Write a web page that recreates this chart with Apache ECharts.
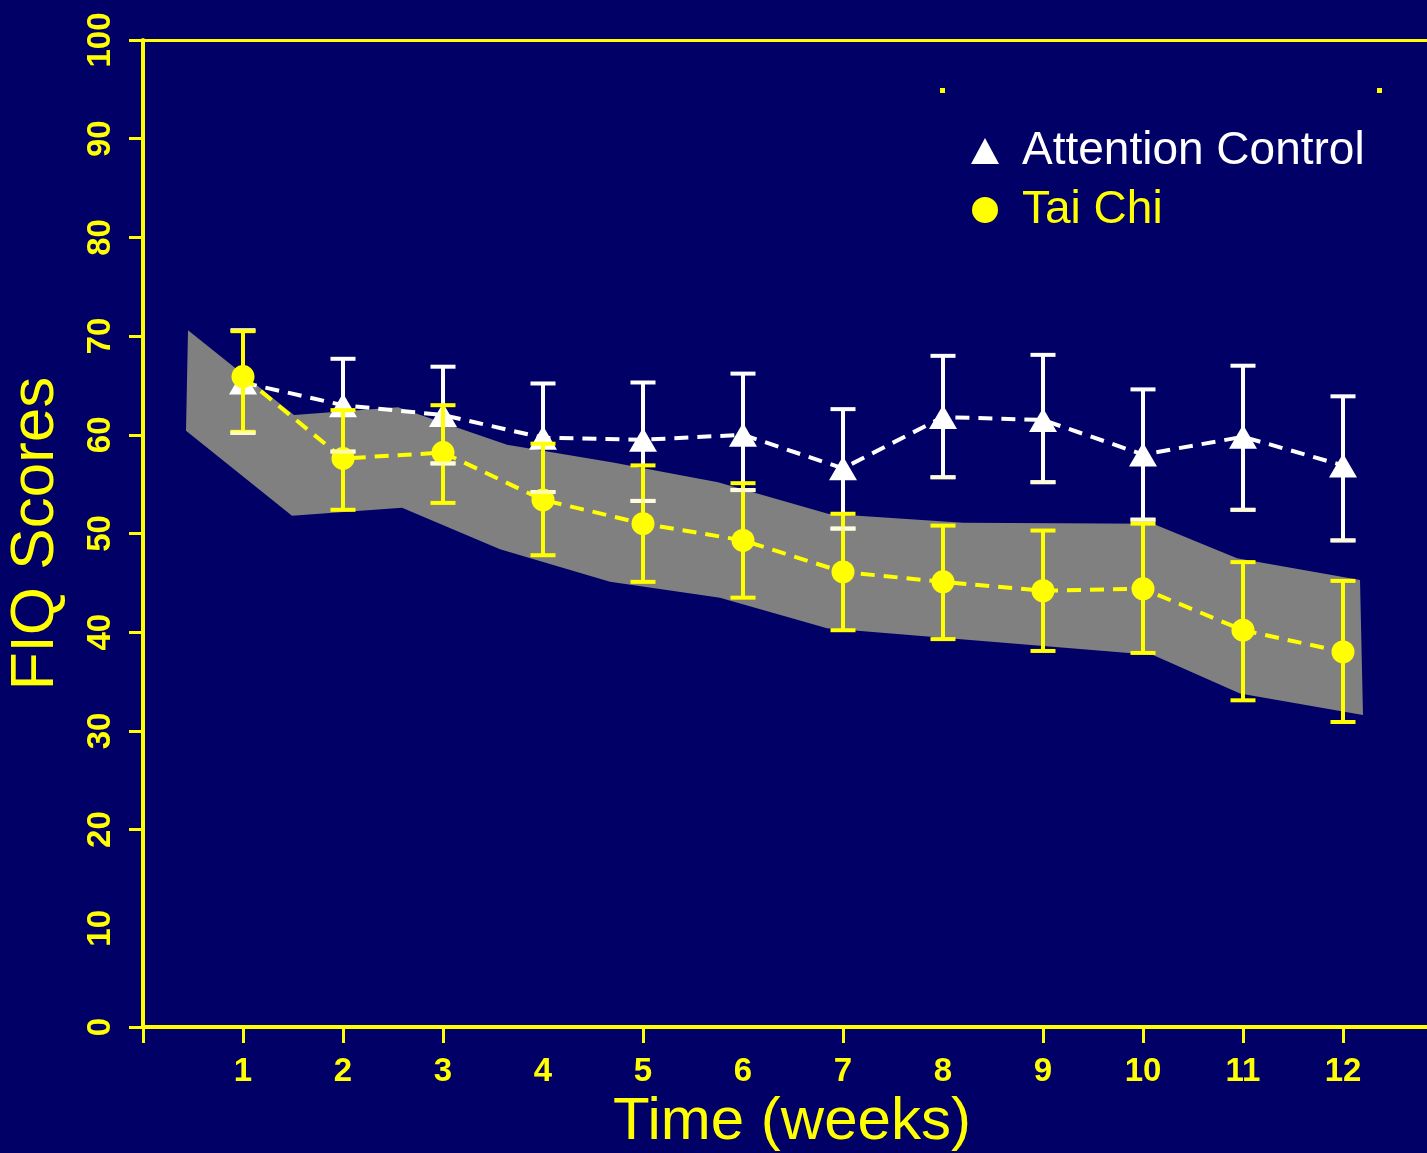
<!DOCTYPE html>
<html>
<head>
<meta charset="utf-8">
<script src="https://cdn.jsdelivr.net/npm/echarts@6/dist/echarts.min.js"></script>
<style>
html,body{margin:0;padding:0;background:#000066;}
#chart{width:1427px;height:1153px;}
</style>
</head>
<body>
<div id="chart"></div>
<script>
// ---- data ----
const weeks = [1, 2, 3, 4, 5, 6, 7, 8, 9, 10, 11, 12];
const acMean  = [65.3, 63.0, 62.0, 59.7, 59.5, 60.0, 56.6, 61.8, 61.5, 58.0, 59.8, 56.9];
const acUpper = [70.6, 67.7, 66.9, 65.2, 65.3, 66.2, 62.6, 68.0, 68.1, 64.6, 67.0, 63.9];
const acLower = [60.2, 58.3, 57.1, 54.2, 53.3, 54.4, 50.5, 55.7, 55.2, 51.4, 52.4, 49.3];
const tcMean  = [65.9, 57.6, 58.2, 53.4, 51.0, 49.3, 46.1, 45.1, 44.2, 44.4, 40.2, 38.0];
const tcUpper = [70.5, 62.5, 63.0, 59.1, 56.9, 55.1, 52.0, 50.8, 50.3, 51.0, 47.1, 45.2];
const tcLower = [60.3, 52.4, 53.1, 47.8, 45.1, 43.5, 40.2, 39.3, 38.1, 37.9, 33.1, 30.9];
const bandUpperX = [0.45, 1.51, 2.55, 3.64, 4.7, 5.75, 6.85, 8.2, 10.1, 10.94, 12.17];
const bandUpperY = [70.6, 62.0, 62.8, 59.0, 57.2, 55.2, 52.0, 51.1, 51.0, 47.5, 45.3];
const bandLowerX = [0.43, 1.49, 2.59, 3.57, 4.67, 5.77, 6.84, 10.1, 10.97, 12.2];
const bandLowerY = [60.4, 51.8, 52.6, 48.4, 45.1, 43.5, 40.4, 37.7, 33.8, 31.6];
const xTickValues = [0, 1, 2, 3, 5, 7, 9, 10, 11, 12];
const xLabelValues = [1, 2, 3, 4, 5, 6, 7, 8, 9, 10, 11, 12];
const yTickValues = [0, 20, 30, 40, 50, 60, 70, 80, 90, 100];
const yLabelValues = [0, 10, 20, 30, 40, 50, 60, 70, 80, 90, 100];
const seriesNames = ['Attention Control', 'Tai Chi'];

// ---- styles ----
const YEL = '#ffff00';
const WHITE = '#ffffff';
const SANS = "'Liberation Sans', Arial, Helvetica, sans-serif";

function errorBarSeries(name, lower, upper, color, z, capsOnlyLower, opacity) {
  return {
    type: 'custom',
    name: name + '_err' + (capsOnlyLower ? '_cap' : ''),
    xAxisIndex: 0, yAxisIndex: 0,
    z: z,
    silent: true,
    clip: false,
    encode: { x: 0, y: [1, 2] },
    data: weeks.map((w, i) => [w, lower[i], upper[i]]),
    renderItem: function (params, api) {
      const x = api.value(0);
      const lo = api.coord([x, api.value(1)]);
      const hi = api.coord([x, api.value(2)]);
      const hw = 12.5;
      const st = { stroke: color, lineWidth: 4, opacity: opacity };
      const children = [];
      if (!capsOnlyLower) {
        children.push({ type: 'line', shape: { x1: hi[0], y1: hi[1], x2: lo[0], y2: lo[1] }, style: st });
        children.push({ type: 'line', shape: { x1: hi[0] - hw, y1: hi[1], x2: hi[0] + hw, y2: hi[1] }, style: st });
      }
      children.push({ type: 'line', shape: { x1: lo[0] - hw, y1: lo[1], x2: lo[0] + hw, y2: lo[1] }, style: st });
      return { type: 'group', children: children };
    }
  };
}

const chart = echarts.init(document.getElementById('chart'), null, { renderer: 'canvas' });
const option = {
  backgroundColor: '#000066',
  animation: false,
  grid: { left: 143, right: 0, top: 40, bottom: 126, containLabel: false, outerBoundsMode: 'none' },
  legend: {
    orient: 'vertical',
    left: 966,
    top: 117,
    itemGap: 1,
    itemWidth: 28,
    itemHeight: 26,
    selectedMode: false,
    textStyle: { fontFamily: SANS, fontSize: 46, lineHeight: 58, padding: [0, 0, 0, 18] },
    data: [
      { name: seriesNames[0], icon: 'triangle', itemStyle: { color: WHITE }, textStyle: { color: WHITE } },
      { name: seriesNames[1], icon: 'circle', itemStyle: { color: YEL }, textStyle: { color: YEL } }
    ]
  },
  xAxis: [
    {
      type: 'value', min: 0, max: 12.84, position: 'bottom',
      name: 'Time (weeks)', nameLocation: 'middle', nameGap: 58,
      nameTextStyle: { color: YEL, fontFamily: SANS, fontSize: 60, padding: [0, 0, 0, 14] },
      axisLine: { show: true, onZero: false, lineStyle: { color: YEL, width: 4 } },
      axisTick: { show: true, length: 16, lineStyle: { color: YEL, width: 3 }, customValues: xTickValues },
      axisLabel: { show: true, color: YEL, fontFamily: SANS, fontWeight: 'bold', fontSize: 33, margin: 28, customValues: xLabelValues },
      splitLine: { show: false }
    },
    {
      type: 'value', min: 0, max: 12.84, position: 'top',
      axisLine: { show: true, onZero: false, lineStyle: { color: YEL, width: 3 } },
      axisTick: { show: false }, axisLabel: { show: false }, splitLine: { show: false }
    }
  ],
  yAxis: {
    type: 'value', min: 0, max: 100, interval: 10,
    name: 'FIQ Scores', nameLocation: 'middle', nameRotate: 90, nameGap: 76,
    nameTextStyle: { color: YEL, fontFamily: SANS, fontSize: 62 },
    axisLine: { show: true, onZero: false, lineStyle: { color: YEL, width: 4 } },
    axisTick: { show: true, length: 14, lineStyle: { color: YEL, width: 3 }, customValues: yTickValues },
    axisLabel: { show: true, rotate: 90, color: YEL, fontFamily: SANS, fontWeight: 'bold', fontSize: 33, margin: 26, customValues: yLabelValues },
    splitLine: { show: false }
  },
  graphic: [
    { type: 'rect', left: 940, top: 88, shape: { width: 5, height: 5 }, style: { fill: YEL } },
    { type: 'rect', left: 1377, top: 88, shape: { width: 5, height: 5 }, style: { fill: YEL } }
  ],
  series: [
    {
      type: 'custom', name: 'band', z: 1, silent: true, clip: false,
      xAxisIndex: 0, yAxisIndex: 0,
      encode: { x: 0, y: 1 },
      data: bandUpperX.map((x, i) => [x, bandUpperY[i]]),
      renderItem: function (params, api) {
        if (params.dataIndex !== 0) return null;
        const pts = [];
        for (let i = 0; i < bandUpperX.length; i++) pts.push(api.coord([bandUpperX[i], bandUpperY[i]]));
        for (let i = bandLowerX.length - 1; i >= 0; i--) pts.push(api.coord([bandLowerX[i], bandLowerY[i]]));
        return { type: 'polygon', shape: { points: pts }, style: { fill: '#808080' } };
      }
    },
    errorBarSeries('ac', acLower, acUpper, WHITE, 2, false, 1),
    {
      type: 'line', name: seriesNames[0], z: 3,
      data: weeks.map((w, i) => [w, acMean[i]]),
      symbol: 'triangle', symbolSize: [28, 24],
      itemStyle: { color: WHITE },
      lineStyle: { color: WHITE, width: 4, type: [14, 9] },
      silent: true
    },
    errorBarSeries('tc', tcLower, tcUpper, YEL, 4, false, 1),
    {
      type: 'line', name: seriesNames[1], z: 5,
      data: weeks.map((w, i) => [w, tcMean[i]]),
      symbol: 'circle', symbolSize: 23,
      itemStyle: { color: YEL },
      lineStyle: { color: YEL, width: 4, type: [14, 9] },
      silent: true
    },
    errorBarSeries('ac', acLower, acUpper, '#fffbd0', 6, true, 0.8)
  ]
};
chart.setOption(option);
</script>
</body>
</html>
